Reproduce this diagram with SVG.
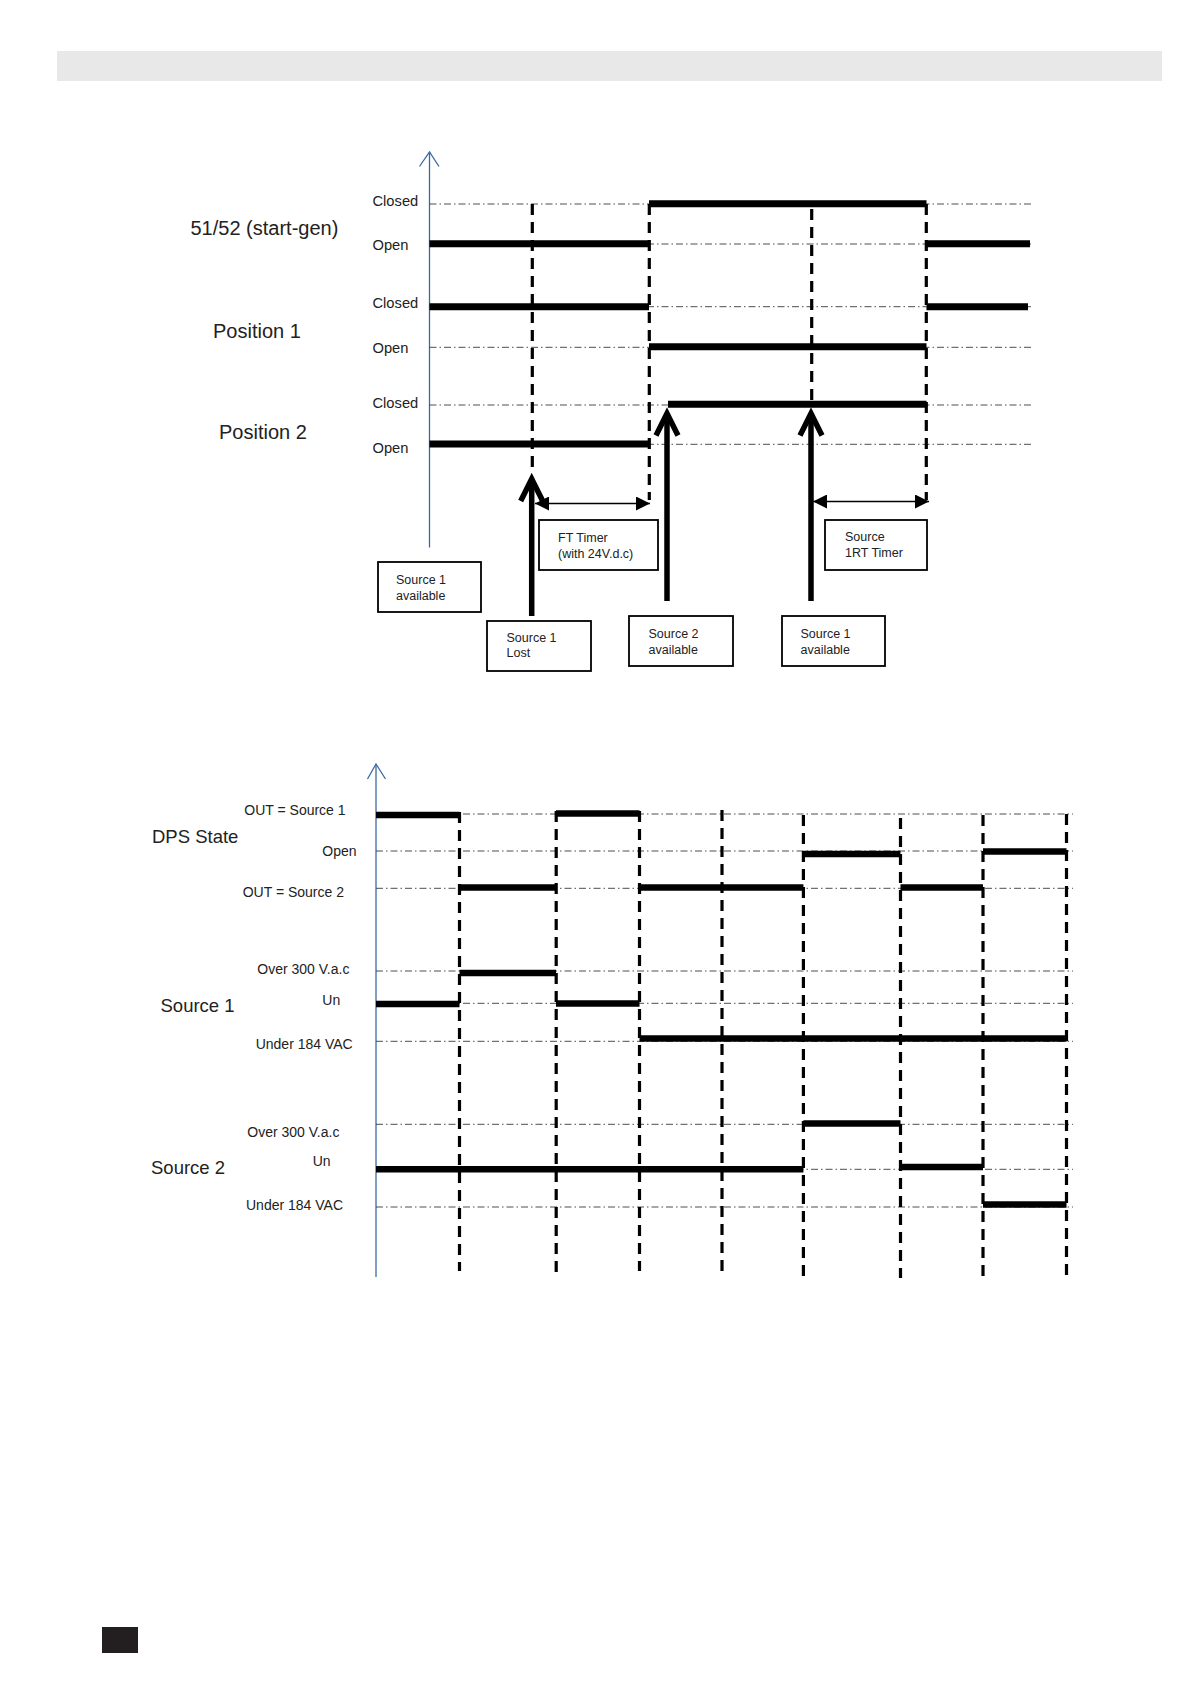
<svg xmlns="http://www.w3.org/2000/svg" width="1191" height="1684" viewBox="0 0 1191 1684">
<style>
  .bg { fill: #ffffff; }
  .lbl { font-family: "Liberation Sans", Arial, sans-serif; fill: #222; }
  .title { font-size: 20px; }
  .state { font-size: 14.7px; }
  .state2 { font-size: 14px; }
  .title2 { font-size: 18.5px; }
  .boxt { font-size: 12.5px; }
  .axis { stroke: #3b6aa0; stroke-width: 1.3; fill: none; }
  .grid { stroke: #3a3a3a; stroke-width: 0.9; stroke-dasharray: 7 3 1.5 3; fill: none; }
  .sig { stroke: #000; stroke-width: 7; fill: none; stroke-linecap: butt; }
  .sig2 { stroke: #000; stroke-width: 6.5; fill: none; stroke-linecap: butt; }
  .vdash { stroke: #000; stroke-width: 3.2; stroke-dasharray: 11 7; fill: none; }
  .box { fill: #fff; stroke: #000; stroke-width: 1.8; }
  .bigarrow { stroke: #000; stroke-width: 5.5; fill: none; marker-end: url(#chev); }
  .timer { stroke: #000; stroke-width: 1.4; fill: none; marker-start: url(#tri); marker-end: url(#tri); }
</style>
<defs>
  <marker id="chev" markerUnits="userSpaceOnUse" markerWidth="40" markerHeight="40" orient="auto" refX="0" refY="0" viewBox="-30 -20 40 40" overflow="visible">
    <path d="M-22,-11 L0,0 L-22,11" fill="none" stroke="#000" stroke-width="5.5" stroke-linejoin="miter" stroke-miterlimit="4"/>
  </marker>
  <marker id="tri" markerUnits="userSpaceOnUse" markerWidth="14" markerHeight="14" orient="auto-start-reverse" refX="10" refY="5" viewBox="0 0 10 10">
    <path d="M0,0 L10,5 L0,10 z" fill="#000"/>
  </marker>
</defs>
<rect class="bg" x="0" y="0" width="1191" height="1684"/>

<g id="header">
  <rect x="57" y="51" width="1105" height="30" fill="#e8e8e8"/>
</g>

<!-- ===== Top chart ===== -->
<g id="top-axis">
  <line class="axis" x1="429.5" y1="152" x2="429.5" y2="547.5"/>
  <polyline class="axis" points="419.5,166.5 429.5,152 439,166.5"/>
</g>

<g id="top-grid">
  <line class="grid" x1="429.5" y1="204" x2="1034" y2="204"/>
  <line class="grid" x1="429.5" y1="244" x2="1034" y2="244"/>
  <line class="grid" x1="429.5" y1="306.7" x2="1034" y2="306.7"/>
  <line class="grid" x1="429.5" y1="347.3" x2="1034" y2="347.3"/>
  <line class="grid" x1="429.5" y1="405" x2="1034" y2="405"/>
  <line class="grid" x1="429.5" y1="444.3" x2="1034" y2="444.3"/>
</g>

<g id="top-labels" class="lbl">
  <text class="title" x="190.5" y="235">51/52 (start-gen)</text>
  <text class="title" x="213" y="337.5">Position 1</text>
  <text class="title" x="219" y="438.5">Position 2</text>
  <text class="state" x="372.5" y="205.5">Closed</text>
  <text class="state" x="372.5" y="250">Open</text>
  <text class="state" x="372.5" y="308">Closed</text>
  <text class="state" x="372.5" y="352.5">Open</text>
  <text class="state" x="372.5" y="407.5">Closed</text>
  <text class="state" x="372.5" y="452.5">Open</text>
</g>

<g id="top-signals">
  <line class="sig" x1="649" y1="203.7" x2="926.5" y2="203.7"/>
  <line class="sig" x1="429.5" y1="243.7" x2="649" y2="243.7"/>
  <line class="sig" x1="926.5" y1="243.7" x2="1030" y2="243.7"/>
  <line class="sig" x1="429.5" y1="306.7" x2="649" y2="306.7"/>
  <line class="sig" x1="926.5" y1="306.7" x2="1028" y2="306.7"/>
  <line class="sig" x1="649" y1="346.7" x2="926.5" y2="346.7"/>
  <line class="sig" x1="668" y1="404.3" x2="926.5" y2="404.3"/>
  <line class="sig" x1="429.5" y1="444" x2="649" y2="444"/>
</g>

<g id="top-events">
  <line class="vdash" x1="532.3" y1="204" x2="532.3" y2="474"/>
  <line class="vdash" x1="649.3" y1="204" x2="649.3" y2="500"/>
  <line class="vdash" x1="811.7" y1="209" x2="811.7" y2="400"/>
  <line class="vdash" x1="926.3" y1="204" x2="926.3" y2="500"/>
</g>

<g id="node-source1-available-a">
  <rect class="box" x="378" y="562" width="103" height="50"/>
  <text class="lbl boxt" x="396" y="584">Source 1</text>
  <text class="lbl boxt" x="396" y="599.5">available</text>
</g>
<g id="node-source1-lost">
  <rect class="box" x="487" y="621" width="104" height="50"/>
  <text class="lbl boxt" x="506.5" y="642">Source 1</text>
  <text class="lbl boxt" x="506.5" y="657">Lost</text>
</g>
<g id="node-source2-available">
  <rect class="box" x="629" y="616" width="104" height="50"/>
  <text class="lbl boxt" x="648.5" y="638">Source 2</text>
  <text class="lbl boxt" x="648.5" y="653.5">available</text>
</g>
<g id="node-source1-available-b">
  <rect class="box" x="782" y="616" width="103" height="50"/>
  <text class="lbl boxt" x="800.5" y="638">Source 1</text>
  <text class="lbl boxt" x="800.5" y="653.5">available</text>
</g>
<g id="node-ft-timer">
  <rect class="box" x="539" y="520" width="119" height="50"/>
  <text class="lbl boxt" x="558" y="542">FT Timer</text>
  <text class="lbl boxt" x="558" y="558">(with 24V.d.c)</text>
</g>
<g id="node-rt-timer">
  <rect class="box" x="825" y="520" width="102" height="50"/>
  <text class="lbl boxt" x="845" y="541">Source</text>
  <text class="lbl boxt" x="845" y="557">1RT Timer</text>
</g>

<g id="connectors">
  <line class="bigarrow" x1="531.7" y1="616" x2="531.7" y2="479"/>
  <line class="bigarrow" x1="667" y1="601" x2="667" y2="413.5"/>
  <line class="bigarrow" x1="811" y1="601" x2="811" y2="413.5"/>
  <line class="timer" x1="535" y1="503.5" x2="650" y2="503.5"/>
  <line class="timer" x1="813" y1="501.5" x2="929" y2="501.5"/>
</g>

<!-- ===== Bottom chart ===== -->
<g id="bottom-axis">
  <line class="axis" x1="376" y1="764" x2="376" y2="1277"/>
  <polyline class="axis" points="367.5,779 376,764 385.5,779"/>
</g>

<g id="bottom-grid">
  <line class="grid" x1="376" y1="814" x2="1073" y2="814"/>
  <line class="grid" x1="376" y1="851" x2="1073" y2="851"/>
  <line class="grid" x1="376" y1="888.3" x2="1073" y2="888.3"/>
  <line class="grid" x1="376" y1="971" x2="1073" y2="971"/>
  <line class="grid" x1="376" y1="1003.3" x2="1073" y2="1003.3"/>
  <line class="grid" x1="376" y1="1041.3" x2="1073" y2="1041.3"/>
  <line class="grid" x1="376" y1="1124.3" x2="1073" y2="1124.3"/>
  <line class="grid" x1="376" y1="1169.3" x2="1073" y2="1169.3"/>
  <line class="grid" x1="376" y1="1207" x2="1073" y2="1207"/>
</g>

<g id="bottom-labels" class="lbl">
  <text class="title2" x="152" y="843">DPS State</text>
  <text class="title2" x="160.5" y="1012">Source 1</text>
  <text class="title2" x="151" y="1173.5">Source 2</text>
  <text class="state2" x="244.3" y="815">OUT = Source 1</text>
  <text class="state2" x="322.3" y="856">Open</text>
  <text class="state2" x="242.7" y="896.5">OUT = Source 2</text>
  <text class="state2" x="257.3" y="973.5">Over 300 V.a.c</text>
  <text class="state2" x="322.3" y="1005">Un</text>
  <text class="state2" x="255.7" y="1048.5">Under 184 VAC</text>
  <text class="state2" x="247.3" y="1136.5">Over 300 V.a.c</text>
  <text class="state2" x="312.7" y="1166">Un</text>
  <text class="state2" x="246" y="1210">Under 184 VAC</text>
</g>

<g id="bottom-signals">
  <line class="sig2" x1="376" y1="815" x2="459.5" y2="815"/>
  <line class="sig2" x1="556" y1="813.5" x2="639.5" y2="813.5"/>
  <line class="sig2" x1="803.4" y1="854" x2="900.5" y2="854"/>
  <line class="sig2" x1="983" y1="851.5" x2="1066.5" y2="851.5"/>
  <line class="sig2" x1="459.5" y1="887.5" x2="556" y2="887.5"/>
  <line class="sig2" x1="639.5" y1="887.5" x2="803.4" y2="887.5"/>
  <line class="sig2" x1="900.5" y1="887.5" x2="983" y2="887.5"/>
  <line class="sig2" x1="459.5" y1="973" x2="556" y2="973"/>
  <line class="sig2" x1="376" y1="1004" x2="459.5" y2="1004"/>
  <line class="sig2" x1="556" y1="1003.5" x2="639.5" y2="1003.5"/>
  <line class="sig2" x1="639.5" y1="1038.5" x2="1066.5" y2="1038.5"/>
  <line class="sig2" x1="376" y1="1169.3" x2="803.4" y2="1169.3"/>
  <line class="sig2" x1="803.4" y1="1123.5" x2="900.5" y2="1123.5"/>
  <line class="sig2" x1="900.5" y1="1167" x2="983" y2="1167"/>
  <line class="sig2" x1="983" y1="1204.5" x2="1066.5" y2="1204.5"/>
</g>

<g id="bottom-events">
  <line class="vdash" x1="459.5" y1="812" x2="459.5" y2="1271"/>
  <line class="vdash" x1="556.2" y1="811" x2="556.2" y2="1275"/>
  <line class="vdash" x1="639.5" y1="811" x2="639.5" y2="1271"/>
  <line class="vdash" x1="722" y1="810" x2="722" y2="1271"/>
  <line class="vdash" x1="803.4" y1="815" x2="803.4" y2="1276"/>
  <line class="vdash" x1="900.5" y1="818" x2="900.5" y2="1278"/>
  <line class="vdash" x1="983" y1="815" x2="983" y2="1276"/>
  <line class="vdash" x1="1066.5" y1="814" x2="1066.5" y2="1276"/>
</g>

<g id="page-mark">
  <rect x="102" y="1627" width="36" height="26" fill="#231f20"/>
</g>
</svg>
